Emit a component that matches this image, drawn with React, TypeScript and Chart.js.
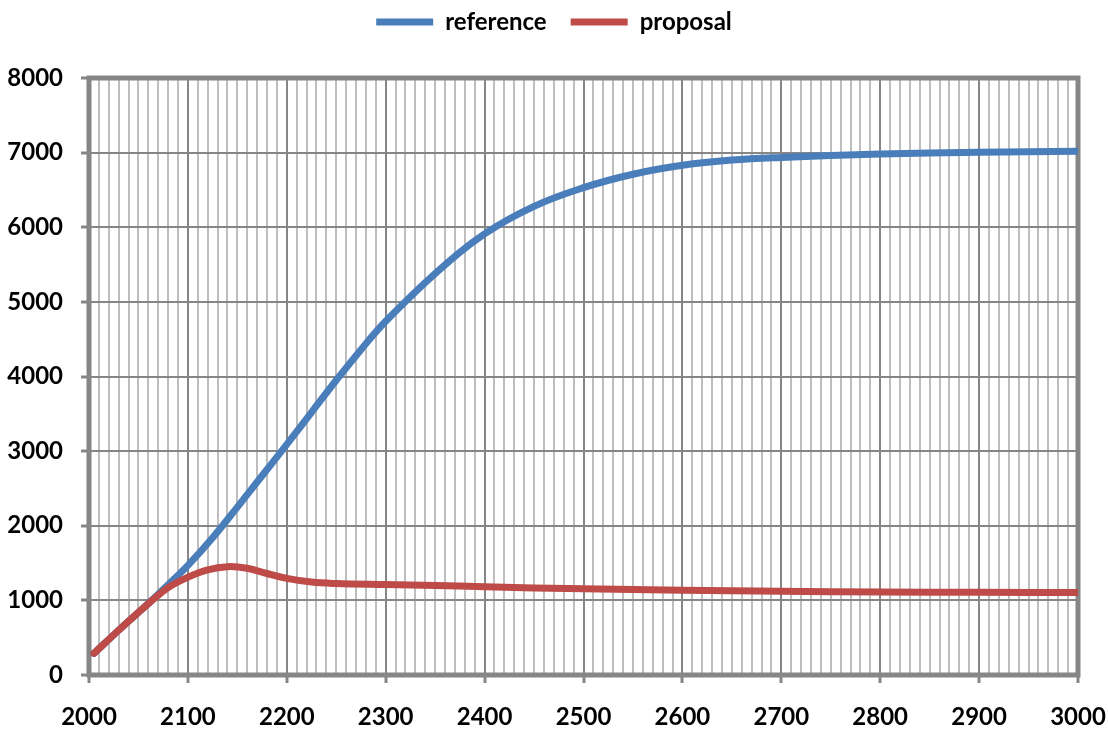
import React, { useEffect, useRef } from "react";
import { Chart, registerables } from "chart.js";

Chart.register(...registerables);

const referenceYears = [2005, 2030, 2050, 2060, 2080, 2100, 2125, 2150, 2175, 2200, 2225, 2250, 2275, 2300, 2350, 2400, 2450, 2500, 2550, 2600, 2650, 2700, 2800, 2900, 3000];
const referenceValues = [290, 600, 840, 960, 1210, 1470, 1840, 2250, 2670, 3090, 3520, 3950, 4360, 4740, 5380, 5910, 6280, 6530, 6710, 6830, 6900, 6935, 6980, 7005, 7020];

const proposalYears = [2005, 2030, 2050, 2060, 2080, 2100, 2120, 2140, 2160, 2180, 2200, 2225, 2250, 2300, 2350, 2400, 2500, 2600, 2700, 2800, 2900, 3000];
const proposalValues = [290, 600, 840, 955, 1170, 1310, 1410, 1452, 1430, 1360, 1295, 1245, 1226, 1212, 1200, 1182, 1155, 1136, 1122, 1113, 1108, 1105];

const seriesLabels = ["reference", "proposal"];
const seriesColors = ["#4A7EBB", "#BE4B48"];

const FONT = "Lato, 'Open Sans', sans-serif";

export default function App() {
  const ref = useRef<HTMLCanvasElement>(null);
  useEffect(() => {
    document.body.style.margin = "0";
    const boxPlugin = {
      id: "box",
      beforeDatasetsDraw(chart: any) {
        const { ctx, chartArea: a } = chart;
        ctx.save();
        ctx.strokeStyle = "#868686";
        ctx.lineWidth = 5;
        ctx.strokeRect(a.left, a.top, a.right - a.left, a.bottom - a.top);
        ctx.restore();
      },
    };
    const legendSpace = {
      id: "legendSpace",
      beforeInit(chart: any) {
        const lg = chart.legend;
        if (!lg) return;
        const fit = lg.fit;
        lg.fit = function () {
          fit.call(this);
          this.height += 34;
        };
      },
    };
    const mk = (i: number, xs: number[], ys: number[], order: number) => ({
      label: seriesLabels[i],
      data: xs.map((x, k) => ({ x, y: ys[k] })),
      borderColor: seriesColors[i],
      backgroundColor: seriesColors[i],
      borderWidth: 7,
      pointRadius: 0,
      tension: 0.4,
      borderCapStyle: "round",
      borderJoinStyle: "round",
      pointStyle: "line",
      order,
    });
    const chart = new Chart(ref.current!, {
      type: "line",
      data: {
        datasets: [
          mk(0, referenceYears, referenceValues, 2),
          mk(1, proposalYears, proposalValues, 1),
        ] as any,
      },
      options: {
        animation: false,
        responsive: false,
        layout: { padding: { left: 0, right: 0, top: -14, bottom: 0 } },
        plugins: {
          tooltip: { enabled: false },
          legend: {
            position: "top",
            labels: {
              usePointStyle: true,
              pointStyleWidth: 57,
              color: "#000",
              font: { family: FONT, size: 24, weight: "bold" },
              padding: 24,
              sort: (a: any, b: any) => a.datasetIndex - b.datasetIndex,
            },
          },
        },
        scales: {
          x: {
            type: "linear",
            min: 2000,
            max: 3000,
            border: { display: false },
            afterFit: (s: any) => {
              s.height = 55;
              s.paddingRight = 30;
              s.paddingLeft = 0;
            },
            grid: {
              color: (c: any) => (c.tick && c.tick.value % 100 === 0 ? "#868686" : "#BEBEBE"),
              lineWidth: 2,
              tickLength: 8,
              tickColor: (c: any) => (c.tick && c.tick.value % 100 === 0 ? "#868686" : "rgba(0,0,0,0)"),
              tickWidth: 3,
            },
            ticks: {
              stepSize: 10,
              autoSkip: false,
              maxRotation: 0,
              padding: 20,
              color: "#000",
              font: { family: FONT, size: 24, weight: "bold" },
              callback: (v: any) => (Number(v) % 100 === 0 ? String(v) : ""),
            },
          },
          y: {
            min: 0,
            max: 8000,
            border: { display: false },
            afterFit: (s: any) => {
              s.width = 89;
            },
            grid: {
              color: "#868686",
              lineWidth: 2,
              tickLength: 8,
              tickColor: "#868686",
              tickWidth: 3,
            },
            ticks: {
              stepSize: 1000,
              padding: 18,
              color: "#000",
              font: { family: FONT, size: 24, weight: "bold" },
              callback: (v: any) => String(v),
            },
          },
        },
      },
      plugins: [boxPlugin, legendSpace],
    });
    return () => chart.destroy();
  }, []);
  return (
    <div style={{ width: 1108, height: 730 }}>
      <canvas ref={ref} width={1108} height={730} />
    </div>
  );
}
